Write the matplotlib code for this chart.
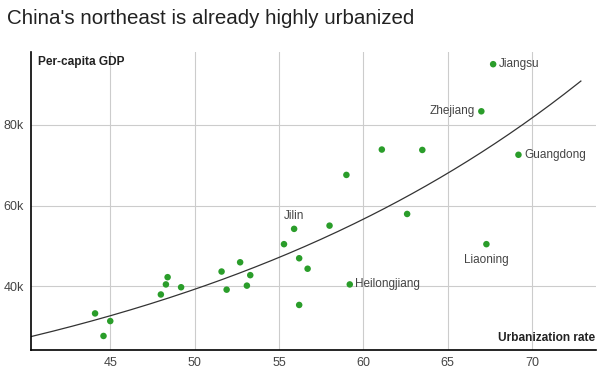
import numpy as np
import matplotlib.pyplot as plt

# urbanization rate (%) and per-capita GDP (yuan), one entry per province
urban = [44.1, 44.6, 45.0, 48.0, 48.3, 48.4, 49.2, 51.6, 51.9, 52.7, 53.1, 53.3,
         55.3, 55.9, 56.2, 56.2, 56.7, 58.0, 59.0, 59.2, 61.1, 63.5, 62.6,
         67.7, 67.0, 69.2, 67.3]
gdp = [33200, 27600, 31300, 37900, 40400, 42200, 39700, 43600, 39100, 45900, 40100, 42700,
       50400, 54200, 35300, 46900, 44300, 55000, 67600, 40400, 73900, 73800, 57900,
       95100, 83400, 72600, 50400]
names = [''] * 13 + ['Jilin'] + [''] * 5 + ['Heilongjiang'] + [''] * 3 + \
        ['Jiangsu', 'Zhejiang', 'Guangdong', 'Liaoning']

x_ticks = [45, 50, 55, 60, 65, 70]
y_ticks = [40000, 60000, 80000]
y_labels = ['40k', '60k', '80k']

plt.rcParams['font.family'] = ['Liberation Sans', 'DejaVu Sans']

fig = plt.figure(figsize=(6.05, 3.72), dpi=100)
ax = fig.add_axes([0.0512, 0.059, 0.934, 0.802])

# exponential trendline
gx = np.array(urban, dtype=float)
gy = np.array(gdp, dtype=float)
b, ln_a = np.polyfit(gx, np.log(gy), 1, w=gy ** 0.1)
xs = np.linspace(40.3, 72.9, 200)
ax.plot(xs, np.exp(ln_a) * np.exp(b * xs), color='#333333', lw=0.9, zorder=2)

ax.scatter(urban, gdp, s=22, color='#2a9d2a', zorder=3, edgecolors='none')

# point labels
offsets = {'Jilin': (0, 5, 'center', 'bottom'),
           'Heilongjiang': (4, 0, 'left', 'center'),
           'Jiangsu': (4, 0, 'left', 'center'),
           'Zhejiang': (-5, 0, 'right', 'center'),
           'Guangdong': (4, 0, 'left', 'center'),
           'Liaoning': (0, -7, 'center', 'top')}
for xv, yv, n in zip(urban, gdp, names):
    if n:
        dx, dy, ha, va = offsets[n]
        ax.annotate(n, (xv, yv), xytext=(dx, dy), textcoords='offset points',
                    ha=ha, va=va, fontsize=8.5, color='#444444')

ax.set_xlim(40.3, 73.8)
ax.set_ylim(24100, 98200)
ax.set_xticks(x_ticks)
ax.set_yticks(y_ticks)
ax.set_yticklabels(y_labels)
ax.tick_params(length=0, labelsize=9, colors='#444444', pad=5)
ax.grid(color='#cccccc', lw=0.8)
ax.set_axisbelow(True)
for s in ['top', 'right']:
    ax.spines[s].set_visible(False)
for s in ['left', 'bottom']:
    ax.spines[s].set_color('black')
    ax.spines[s].set_linewidth(1.2)

ax.text(0.012, 0.985, 'Per-capita GDP', transform=ax.transAxes, fontsize=8.6,
        fontweight='bold', color='#222222', ha='left', va='top')
ax.text(0.998, 0.02, 'Urbanization rate', transform=ax.transAxes, fontsize=8.6,
        fontweight='bold', color='#222222', ha='right', va='bottom')

fig.text(0.011, 0.95, "China's northeast is already highly urbanized", fontsize=14.8,
         color='#222222', ha='left', va='center')

fig.savefig('out.png', dpi=100)
